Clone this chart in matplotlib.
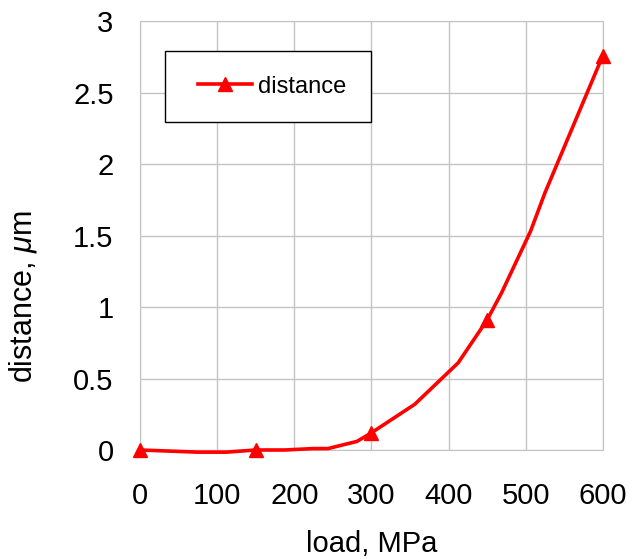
import matplotlib
matplotlib.use('Agg')
import matplotlib.pyplot as plt
from matplotlib.patches import Rectangle

plt.rcParams['font.family'] = ['Liberation Sans', 'DejaVu Sans']
plt.rcParams['mathtext.fontset'] = 'custom'
plt.rcParams['mathtext.it'] = 'Liberation Sans:italic'
plt.rcParams['mathtext.rm'] = 'Liberation Sans'

# load (MPa) and distance (um)
load = [0, 75, 112.5, 150, 187.5, 225, 243.75, 281.25, 300, 356.25,
        412.5, 450, 468.75, 506.25, 525, 562.5, 581.25, 600]
dist = [0, -0.015, -0.015, 0, 0.0, 0.01, 0.01, 0.06, 0.12, 0.32,
        0.61, 0.91, 1.10, 1.53, 1.80, 2.28, 2.52, 2.76]
marker_idx = [0, 3, 8, 11, 17]

xticks = [0, 100, 200, 300, 400, 500, 600]
yticks = [0, 0.5, 1, 1.5, 2, 2.5, 3]
yticklabels = ['0', '0.5', '1', '1.5', '2', '2.5', '3']

fig = plt.figure(figsize=(6.42, 5.59), dpi=100)
ax = fig.add_axes([0.218, 0.195, 0.721, 0.767])

ax.plot(load, dist, color='red', lw=2.6, marker='^', ms=9.5,
        markevery=marker_idx, label='distance', clip_on=False, zorder=3)

ax.set_xlim(0, 600)
ax.set_ylim(0, 3)
ax.set_xticks(xticks)
ax.set_yticks(yticks)
ax.set_yticklabels(yticklabels)
ax.tick_params(length=0, labelsize=21)
ax.tick_params(axis='x', pad=23)
ax.tick_params(axis='y', pad=19)
ax.grid(True, color='#c4c4c4', lw=1)
ax.set_axisbelow(True)
for s in ax.spines.values():
    s.set_color('#c4c4c4')

ax.set_xlabel('load, MPa', fontsize=21)
ax.set_ylabel(r'distance, $\mu$m', fontsize=22)
ax.xaxis.set_label_coords(0.5, -0.187)
ax.yaxis.set_label_coords(-0.218, 0.357)

# legend box
ax.add_patch(Rectangle((0.054, 0.765), 0.445, 0.165, transform=ax.transAxes,
                       facecolor='white', edgecolor='black', lw=1, zorder=4))
ax.legend(loc='center', bbox_to_anchor=(0.063, 0.765, 0.445, 0.165),
          frameon=False, fontsize=17, handlelength=2.3, handletextpad=0.25,
          borderpad=0, borderaxespad=0).set_zorder(5)

fig.savefig('out.png', dpi=100)
